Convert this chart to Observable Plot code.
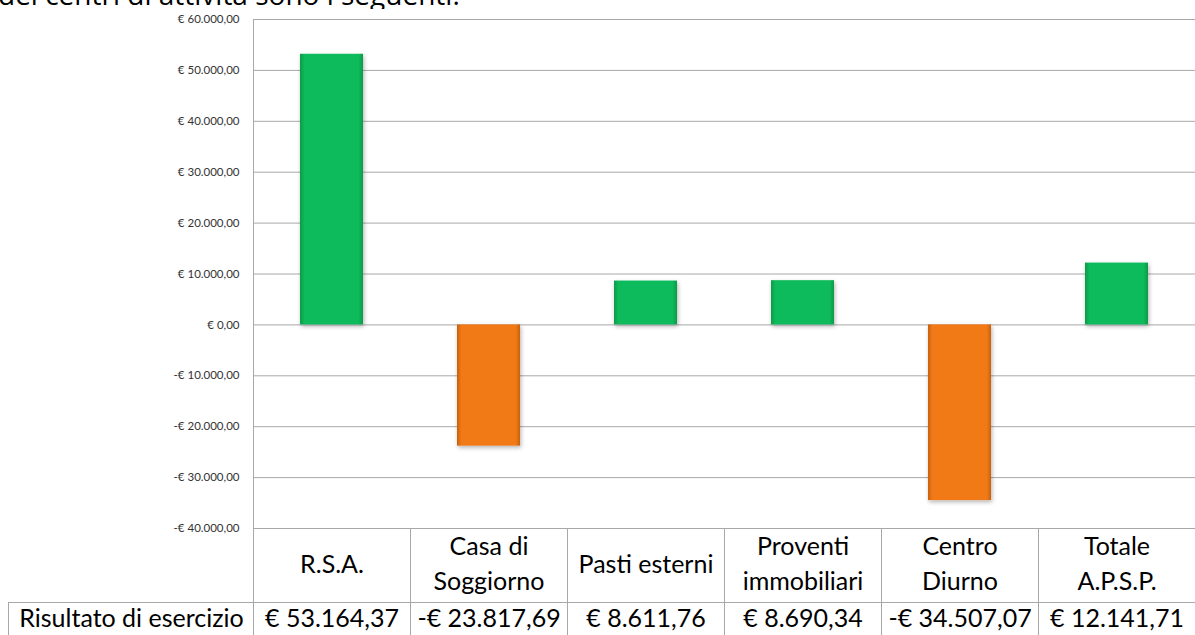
<!DOCTYPE html>
<html><head><meta charset="utf-8">
<script src="https://cdn.jsdelivr.net/npm/d3@7"></script>
<script src="https://cdn.jsdelivr.net/npm/@observablehq/plot@0.6"></script>
<style>
body{margin:0;background:#fff;width:1195px;height:635px;overflow:hidden;position:relative;font-family:Lato,sans-serif}
#intro{position:absolute;left:0;top:0;height:9px;overflow:hidden;width:1195px;z-index:2}
#intro span{position:absolute;left:-2px;top:-23px;font-size:28px;line-height:34px;white-space:nowrap;color:#000;font-family:"Open Sans",sans-serif}
#chart{position:absolute;left:0;top:0}
</style></head><body>
<div id="intro"><span>dei centri di attività sono i seguenti:</span></div>
<div id="chart"></div>
<script>
const categories = ["R.S.A.","Casa di Soggiorno","Pasti esterni","Proventi immobiliari","Centro Diurno","Totale A.P.S.P."];
const headerLabels = ["R.S.A.","Casa di\nSoggiorno","Pasti esterni","Proventi\nimmobiliari","Centro\nDiurno","Totale\nA.P.S.P."];
const values = [53164.37,-23817.69,8611.76,8690.34,-34507.07,12141.71];
const rowLabel = "Risultato di esercizio";
const yTicks = [-40000,-30000,-20000,-10000,0,10000,20000,30000,40000,50000,60000];
const yDomain = [-40000, 60000];

const loc = d3.formatLocale({decimal: ",", thousands: ".", grouping: [3], currency: ["€ ", ""]});
const f2 = loc.format(",.2f");
const euro = v => (v < 0 ? "-€ " : "€ ") + f2(Math.abs(v));

const data = categories.map((c, i) => ({cat: c, header: headerLabels[i], value: values[i], label: euro(values[i])}));
const pos = data.filter(d => d.value >= 0);
const neg = data.filter(d => d.value < 0);

const W = 1195, H = 635, mL = 253, mT = 19, mB = 107;
const band = (W - mL) / categories.length;
const gridColor = "#a8a8a8";
const tableFont = 25;

const svg = Plot.plot({
  width: W, height: H,
  marginLeft: mL, marginRight: 0, marginTop: mT, marginBottom: mB,
  style: {fontFamily: "Lato, sans-serif", background: "transparent", overflow: "visible"},
  x: {domain: categories, padding: 0, axis: null},
  y: {domain: yDomain, axis: null},
  marks: [
    Plot.gridY(yTicks, {stroke: gridColor, strokeOpacity: 1, strokeWidth: 1}),
    Plot.axisY(yTicks, {tickFormat: euro, tickSize: 0, tickPadding: 14, fontSize: 11.5, fill: "#333", label: null}),
    // vertical axis line (full height incl. table)
    Plot.ruleX([categories[0]], {dx: -band/2, stroke: gridColor, insetBottom: -mB}),
    // column separators in the data table
    Plot.ruleX(categories.slice(1), {dx: -band/2, stroke: gridColor, insetTop: (H - mB - mT), insetBottom: -mB}),
    // row separator line
    Plot.ruleY([yDomain[0]], {dy: 74, stroke: gridColor, insetLeft: -245}),
    // left border of row label cell
    Plot.ruleX([categories[0]], {dx: -band/2 - 245, stroke: gridColor, insetTop: (H - mB - mT) + 74, insetBottom: -mB}),
    Plot.barY(pos, {x: "cat", y: "value", fill: "#0dba5b", insetLeft: 47, insetRight: 47, className: "bars-pos"}),
    Plot.barY(neg, {x: "cat", y: "value", fill: "#f27a16", insetLeft: 47, insetRight: 47, className: "bars-neg"}),
    Plot.text(data, {x: "cat", text: "header", frameAnchor: "bottom", lineAnchor: "middle", dy: 33, fontSize: tableFont, lineHeight: 1.4, fill: "#000"}),
    Plot.text(data, {x: "cat", text: "label", frameAnchor: "bottom", lineAnchor: "middle", dy: 90, fontSize: tableFont, fill: "#000"}),
    Plot.text([rowLabel], {text: d => d, frameAnchor: "bottom-left", lineAnchor: "middle", dx: -122, dy: 90, textAnchor: "middle", fontSize: tableFont, fill: "#000"})
  ]
});

const s = d3.select(svg);
const defs = s.insert("defs", ":first-child");
function grad(id, edge, mid) {
  const g = defs.append("linearGradient").attr("id", id).attr("x1", 0).attr("x2", 1).attr("y1", 0).attr("y2", 0);
  [[0, edge],[0.07, mid],[0.93, mid],[1, edge]].forEach(([o, c]) => g.append("stop").attr("offset", o).attr("stop-color", c));
}
grad("gGreen", "#089a48", "#0dba5b");
grad("gOrange", "#c9600c", "#f27a16");
const flt = defs.append("filter").attr("id", "shadow").attr("x", "-20%").attr("y", "-10%").attr("width", "140%").attr("height", "120%");
flt.append("feDropShadow").attr("dx", 1).attr("dy", 2).attr("stdDeviation", 2).attr("flood-color", "#000").attr("flood-opacity", 0.3);
s.selectAll(".bars-pos").attr("fill", "url(#gGreen)").attr("filter", "url(#shadow)");
s.selectAll(".bars-neg").attr("fill", "url(#gOrange)").attr("filter", "url(#shadow)");
s.selectAll(".bars-pos rect, .bars-neg rect").attr("fill", null);

document.getElementById("chart").appendChild(svg);
</script>
</body></html>
